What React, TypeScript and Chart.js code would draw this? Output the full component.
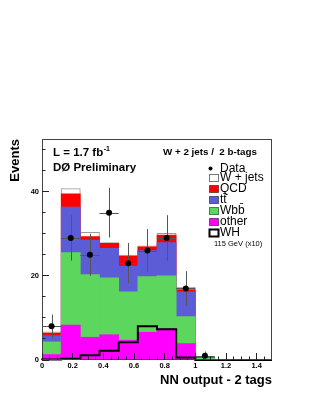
import React, { useEffect, useRef } from "react";
import { Chart, registerables } from "chart.js";

Chart.register(...registerables);

// ---- data ----
const binEdges = [0, 0.125, 0.25, 0.375, 0.5, 0.625, 0.75, 0.875, 1.0, 1.125, 1.25, 1.375, 1.5];
const otherBkg = [1.3, 8.3, 5.4, 6.0, 4.7, 6.6, 7.4, 3.9, 0.1, 0, 0, 0];
const wbbBkg = [3.0, 17.2, 14.9, 13.5, 11.5, 13.2, 12.6, 6.4, 0.3, 0, 0, 0];
const ttBkg = [1.5, 10.8, 8.2, 7.0, 6.1, 6.2, 7.9, 5.9, 0.2, 0, 0, 0];
const qcdBkg = [0.6, 3.2, 0.8, 1.2, 2.4, 0.9, 1.8, 0.5, 0.1, 0, 0, 0];
const wjetsBkg = [0.3, 1.2, 1.0, 0.2, 0.2, 0.2, 0.4, 0.6, 0.2, 0, 0, 0];
const whSignal = [0.05, 0.1, 0.3, 1.1, 2.2, 4.2, 8.0, 7.3, 0.6, 0, 0, 0];
const dataCounts = [8, 29, 25, 35, 23, 26, 29, 17, 1, null, null, null];
const dataErrors = [2.8, 5.4, 5.0, 5.9, 4.8, 5.1, 5.4, 4.1, 1.0, null, null, null];
const xTickValues = [0, 0.2, 0.4, 0.6, 0.8, 1, 1.2, 1.4];
const yTickValues = [0, 20, 40];
const seriesLabels = ["other", "Wbb\u0304", "tt\u0304", "QCD", "W + jets"];
const signalLabel = "WH";
const signalNote = "115 GeV (x10)";
const dataLabel = "Data";

const FONT = "'Liberation Sans', Arial, Helvetica, sans-serif";
const seriesColors = ["#ff00ff", "#5cd65c", "#5c5cd6", "#ff0000", "#ffffff"];

export default function App() {
  const ref = useRef<HTMLCanvasElement>(null);

  useEffect(() => {
    const canvas = ref.current;
    if (!canvas) return;
    const nBins = binEdges.length - 1;
    const centers = binEdges.slice(0, -1).map((e, i) => (e + binEdges[i + 1]) / 2);
    const seriesValues = [otherBkg, wbbBkg, ttBkg, qcdBkg, wjetsBkg];

    let running = new Array(nBins).fill(0);
    const stackDatasets: any[] = seriesValues.map((vals, k) => {
      running = running.map((r: number, i: number) => r + vals[i]);
      const isW = k === seriesValues.length - 1;
      return {
        type: "bar",
        label: seriesLabels[k],
        data: centers.map((c, i) => ({ x: c, y: running[i] })),
        backgroundColor: seriesColors[k],
        borderColor: isW ? "#9a9a9a" : "rgba(0,0,0,0)",
        borderWidth: isW ? { top: 1, left: 1, right: 1, bottom: 0 } : 0,
        borderSkipped: "bottom",
        grouped: false,
        barPercentage: 1,
        categoryPercentage: 1,
        order: k,
      };
    });

    const whPoints = binEdges.map((e, i) => ({ x: e, y: whSignal[Math.min(i, nBins - 1)] }));
    const dataPoints: any[] = [];
    centers.forEach((c, i) => {
      const v = dataCounts[i];
      if (v !== null && v !== undefined && v > 0) {
        dataPoints.push({ x: c, y: v, err: dataErrors[i], bin: i });
      }
    });

    const DATA_INDEX = stackDatasets.length + 1;

    const decor = {
      id: "decor",
      beforeDatasetDraw(chart: any, args: any) {
        if (args.index !== DATA_INDEX) return;
        const { ctx, scales } = chart;
        const xs = scales.x;
        const ys = scales.y;
        ctx.save();
        ctx.strokeStyle = "#555";
        ctx.lineWidth = 1;
        ctx.beginPath();
        dataPoints.forEach((p) => {
          const px = Math.round(xs.getPixelForValue(p.x)) + 0.5;
          const py = Math.round(ys.getPixelForValue(p.y)) + 0.5;
          ctx.moveTo(px, ys.getPixelForValue(p.y + p.err));
          ctx.lineTo(px, Math.min(ys.getPixelForValue(Math.max(p.y - p.err, 0)), chart.chartArea.bottom));
          ctx.moveTo(xs.getPixelForValue(binEdges[p.bin]), py);
          ctx.lineTo(xs.getPixelForValue(binEdges[p.bin + 1]), py);
        });
        ctx.stroke();
        ctx.restore();
      },
      afterDatasetsDraw(chart: any) {
        const { ctx, chartArea: a, scales } = chart;
        const xs = scales.x;
        const ys = scales.y;
        ctx.save();
        // frame
        ctx.strokeStyle = "#444";
        ctx.lineWidth = 1;
        ctx.strokeRect(a.left + 0.5, a.top + 0.5, a.right - a.left - 1, a.bottom - a.top - 1);
        // ticks
        ctx.strokeStyle = "#222";
        ctx.beginPath();
        for (let k = 0; k * 5 <= ys.max; k++) {
          const v = k * 5;
          const py = Math.round(ys.getPixelForValue(v) - 0.5) + 0.5;
          const len = v % 20 === 0 ? 7 : 3.5;
          ctx.moveTo(a.left, py);
          ctx.lineTo(a.left + len, py);
        }
        for (let k = 0; k * 0.05 < xs.max - 1e-9; k++) {
          const v = k * 0.05;
          const px = Math.round(xs.getPixelForValue(v) - 0.5) + 0.5;
          const len = k % 4 === 0 ? 7 : 3.5;
          ctx.moveTo(px, a.bottom);
          ctx.lineTo(px, a.bottom - len);
        }
        ctx.stroke();
        ctx.restore();
      },
      afterDraw(chart: any) {
        const { ctx } = chart;
        ctx.save();
        ctx.fillStyle = "#000";
        ctx.textBaseline = "middle";
        ctx.textAlign = "left";
        // annotations
        ctx.font = `bold 11.5px ${FONT}`;
        const lText = "L = 1.7 fb";
        ctx.fillText(lText, 53, 153);
        const lw = ctx.measureText(lText).width;
        ctx.font = `bold 7px ${FONT}`;
        ctx.fillText("-1", 53 + lw + 0.5, 149);
        ctx.font = `bold 11.5px ${FONT}`;
        ctx.fillText("D\u00d8 Preliminary", 53, 168);
        ctx.font = `bold 9.8px ${FONT}`;
        ctx.fillText("W + 2 jets /  2 b-tags", 163, 152);

        // legend
        const boxX = 209.5;
        const textX = 220;
        ctx.font = `12px ${FONT}`;
        // data
        ctx.beginPath();
        ctx.arc(210.5, 168.5, 2, 0, Math.PI * 2);
        ctx.fill();
        ctx.fillText(dataLabel, textX, 168.5);
        const rows = [
          { label: seriesLabels[4], color: seriesColors[4], border: "#777", y: 178 },
          { label: seriesLabels[3], color: seriesColors[3], border: "rgba(0,0,0,0.5)", y: 189 },
          { label: seriesLabels[2], color: seriesColors[2], border: "rgba(0,0,0,0.5)", y: 200 },
          { label: seriesLabels[1], color: seriesColors[1], border: "rgba(0,0,0,0.5)", y: 211 },
          { label: seriesLabels[0], color: seriesColors[0], border: "rgba(0,0,0,0.5)", y: 222 },
        ];
        rows.forEach((r) => {
          ctx.fillStyle = r.color;
          ctx.fillRect(boxX, r.y - 3.5, 9, 7);
          ctx.strokeStyle = r.border;
          ctx.lineWidth = 1;
          ctx.strokeRect(boxX, r.y - 3.5, 9, 7);
          ctx.fillStyle = "#000";
          ctx.fillText(r.label, textX, r.y);
        });
        // WH
        ctx.fillStyle = "#fff";
        ctx.fillRect(boxX, 233 - 3.5, 9, 7);
        ctx.strokeStyle = "#000";
        ctx.lineWidth = 2;
        ctx.strokeRect(boxX, 233 - 3.5, 9, 7);
        ctx.fillStyle = "#000";
        ctx.fillText(signalLabel, textX, 233);
        ctx.font = `7.5px ${FONT}`;
        ctx.fillText(signalNote, 214, 243.5);
        ctx.restore();
      },
    };

    const chart = new Chart(canvas, {
      type: "bar",
      data: {
        datasets: [
          ...stackDatasets,
          {
            type: "line",
            label: signalLabel,
            data: whPoints,
            stepped: "after",
            borderColor: "#000",
            borderWidth: 2,
            pointRadius: 0,
            fill: false,
            clip: false,
            order: -1,
          },
          {
            type: "scatter",
            label: dataLabel,
            data: dataPoints,
            pointRadius: 3,
            pointBackgroundColor: "#000",
            pointBorderWidth: 0,
            showLine: false,
            order: -2,
          },
        ] as any,
      },
      options: {
        responsive: false,
        animation: false,
        events: [],
        layout: { padding: { left: 4, right: 38, top: 139, bottom: 9 } },
        plugins: { legend: { display: false }, tooltip: { enabled: false } },
        scales: {
          x: {
            type: "linear",
            min: binEdges[0],
            max: binEdges[binEdges.length - 1],
            offset: false,
            grid: { display: false, drawTicks: false },
            border: { display: false },
            afterBuildTicks: (s: any) => {
              s.ticks = xTickValues.map((v) => ({ value: v }));
            },
            ticks: {
              includeBounds: false,
              autoSkip: false,
              maxRotation: 0,
              padding: 1,
              color: "#000",
              font: { family: FONT, size: 7.5, weight: "bold" },
              callback: (v: any) => String(Math.round(Number(v) * 10) / 10),
            },
            title: {
              display: true,
              text: "NN output - 2 tags",
              align: "end",
              color: "#000",
              font: { family: FONT, size: 13, weight: "bold" },
              padding: { top: 4, bottom: 4 },
            },
            afterFit: (s: any) => {
              s.height = 32;
            },
          },
          y: {
            type: "linear",
            min: 0,
            max: 52.5,
            grid: { display: false, drawTicks: false },
            border: { display: false },
            afterBuildTicks: (s: any) => {
              s.ticks = yTickValues.map((v) => ({ value: v }));
            },
            ticks: {
              includeBounds: false,
              padding: 3,
              color: "#000",
              font: { family: FONT, size: 7.5, weight: "bold" },
              callback: (v: any) => String(v),
            },
            title: {
              display: true,
              text: "Events",
              align: "end",
              color: "#000",
              font: { family: FONT, size: 13, weight: "bold" },
              padding: { top: 4, bottom: 4 },
            },
            afterFit: (s: any) => {
              s.width = 38;
            },
          },
        },
      } as any,
      plugins: [decor],
    });

    return () => chart.destroy();
  }, []);

  return (
    <canvas
      ref={ref}
      width={310}
      height={401}
      style={{ position: "absolute", left: 0, top: 0, display: "block", background: "#fff" }}
    />
  );
}
